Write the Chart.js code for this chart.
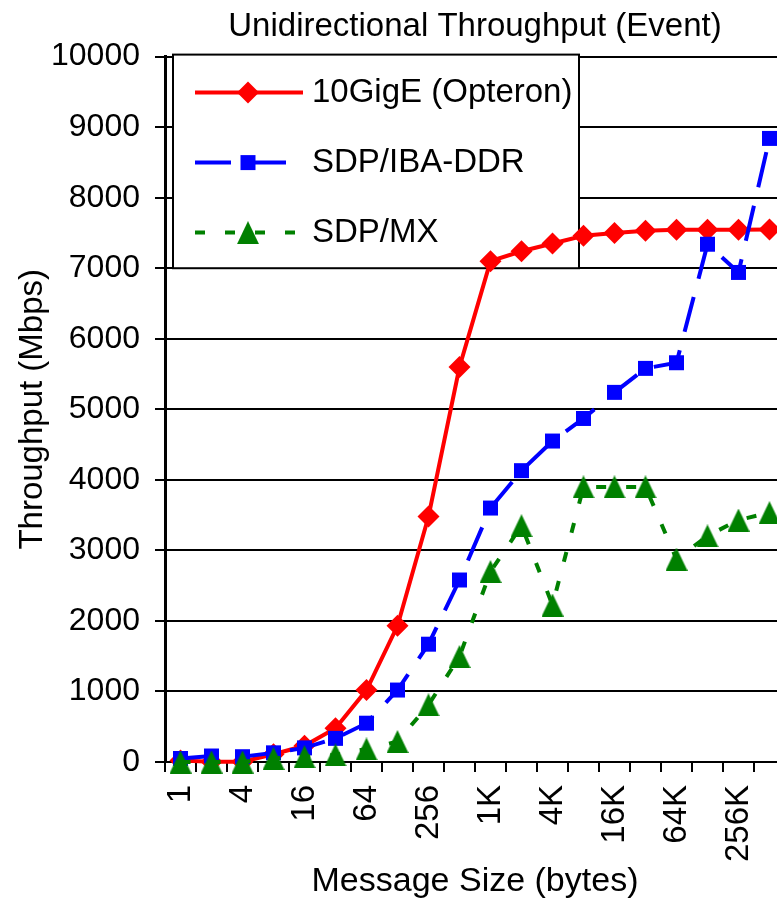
<!DOCTYPE html>
<html>
<head>
<meta charset="utf-8">
<script src="https://cdn.jsdelivr.net/npm/chart.js@4/dist/chart.umd.min.js"></script>
<style>
  html, body { margin: 0; padding: 0; background: #fff; overflow: hidden; width: 777px; height: 902px; }
  #wrap { position: absolute; left: 0; top: 0; width: 938px; height: 902px; }
</style>
</head>
<body>
<div id="wrap"><canvas id="chart" width="938" height="902"></canvas></div>
<script>
// Message sizes (bytes) on the x axis
const categories = ['1', '2', '4', '8', '16', '32', '64', '128', '256', '512',
                    '1K', '2K', '4K', '8K', '16K', '32K', '64K', '128K', '256K', '512K'];
// Sizes that carry a printed tick label
const shownTicks = ['1', '4', '16', '64', '256', '1K', '4K', '16K', '64K', '256K'];

// Throughput in Mbps for each message size
const gigE   = [20, 5, 5, 110, 230, 480, 1020, 1930, 3480, 5600,
                7100, 7240, 7350, 7460, 7500, 7530, 7545, 7545, 7545, 7550];
const ibaDDR = [50, 85, 75, 130, 200, 335, 550, 1020, 1670, 2580,
                3600, 4130, 4550, 4870, 5240, 5580, 5660, 7340, 6940, 8840];
const mx     = [0, 0, 0, 50, 75, 100, 185, 290, 810, 1495,
                2700, 3350, 2225, 3900, 3900, 3900, 2875, 3205, 3430, 3535];

const yMin = 0, yMax = 10000, yStep = 1000;

const FONT = '"Liberation Sans", Arial, Helvetica, sans-serif';

// Slightly tall triangle marker, centred on its bounding box
function makeTriangle(w, h, color) {
  const c = document.createElement('canvas');
  c.width = w;
  c.height = h;
  const g = c.getContext('2d');
  g.fillStyle = color;
  g.beginPath();
  g.moveTo(w / 2, 0);
  g.lineTo(w, h);
  g.lineTo(0, h);
  g.closePath();
  g.fill();
  return c;
}
const greenTriangle = makeTriangle(22, 23, '#008000');

// Boxed legend inside the plot, drawn under the data lines
const boxLegend = {
  id: 'boxLegend',
  beforeDatasetsDraw(chart) {
    const { ctx, chartArea, scales: { y } } = chart;
    const left = chartArea.left + 8;
    const right = chartArea.left + 414;
    const top = y.getPixelForValue(10000) - 2;
    const bottom = y.getPixelForValue(7000);
    ctx.save();
    ctx.fillStyle = '#ffffff';
    ctx.fillRect(left, top, right - left, bottom - top);
    ctx.strokeStyle = '#000000';
    ctx.lineWidth = 2;
    ctx.setLineDash([]);
    ctx.strokeRect(left, top, right - left, bottom - top);

    chart.data.datasets.forEach((ds, i) => {
      const cy = top + 38 + 70 * i;
      ctx.beginPath();
      ctx.setLineDash(ds.borderDash || []);
      ctx.lineDashOffset = 0;
      ctx.strokeStyle = ds.borderColor;
      ctx.lineWidth = ds.borderWidth;
      ctx.lineCap = 'butt';
      ctx.moveTo(left + 22, cy);
      ctx.lineTo(left + 130, cy);
      ctx.stroke();
      ctx.setLineDash([]);

      ctx.fillStyle = ds.pointBackgroundColor;
      ctx.strokeStyle = ds.pointBackgroundColor;
      if (Chart.helpers && Chart.helpers.drawPoint) {
        Chart.helpers.drawPoint(ctx, {
          pointStyle: ds.pointStyle, radius: ds.pointRadius, rotation: 0, borderWidth: 0
        }, left + 75, cy);
      }

      ctx.fillStyle = '#000000';
      ctx.font = '33px ' + FONT;
      ctx.textAlign = 'left';
      ctx.textBaseline = 'middle';
      ctx.fillText(ds.label, left + 139, cy);
    });
    ctx.restore();
  }
};

new Chart(document.getElementById('chart'), {
  type: 'line',
  data: {
    labels: categories,
    datasets: [
      {
        label: '10GigE (Opteron)',
        data: gigE,
        borderColor: '#ff0000',
        backgroundColor: '#ff0000',
        pointBackgroundColor: '#ff0000',
        borderWidth: 4,
        pointStyle: 'rectRot',
        pointRadius: 11,
        pointBorderWidth: 0,
        tension: 0,
        clip: false,
        order: 2
      },
      {
        label: 'SDP/IBA-DDR',
        data: ibaDDR,
        borderColor: '#0000ff',
        backgroundColor: '#0000ff',
        pointBackgroundColor: '#0000ff',
        borderWidth: 4,
        borderDash: [36, 19],
        pointStyle: 'rect',
        pointRadius: 10.6,
        pointBorderWidth: 0,
        tension: 0,
        clip: false,
        order: 1
      },
      {
        label: 'SDP/MX',
        data: mx,
        borderColor: '#008000',
        backgroundColor: '#008000',
        pointBackgroundColor: '#008000',
        borderWidth: 4,
        borderDash: [10, 20],
        pointStyle: greenTriangle,
        pointRadius: 12,
        pointBorderWidth: 0,
        tension: 0,
        clip: false,
        order: 0
      }
    ]
  },
  options: {
    responsive: false,
    devicePixelRatio: 1,
    animation: false,
    events: [],
    layout: { padding: { left: 0, right: 153, top: 0, bottom: 0 } },
    plugins: {
      legend: { display: false },
      tooltip: { enabled: false },
      title: {
        display: true,
        text: 'Unidirectional Throughput (Event)',
        fullSize: false,
        color: '#000000',
        font: { family: FONT, size: 33, weight: 'normal' },
        padding: { top: 7, bottom: 10 }
      }
    },
    scales: {
      x: {
        type: 'category',
        offset: true,
        grid: {
          display: true,
          drawOnChartArea: false,
          drawTicks: true,
          tickLength: 10,
          offset: true,
          color: '#000000',
          lineWidth: 2
        },
        border: { display: true, color: '#000000', width: 2 },
        ticks: {
          autoSkip: false,
          minRotation: 90,
          maxRotation: 90,
          padding: 13,
          color: '#000000',
          font: { family: FONT, size: 33 },
          callback(value, index) {
            const lbl = categories[index];
            return shownTicks.includes(lbl) ? lbl : '';
          }
        },
        title: {
          display: true,
          text: 'Message Size (bytes)',
          color: '#000000',
          font: { family: FONT, size: 34 },
          padding: { top: 0, bottom: 0 }
        },
        afterFit(scale) { scale.height = 140; }
      },
      y: {
        min: yMin,
        max: yMax,
        ticks: {
          stepSize: yStep,
          padding: 15,
          color: '#000000',
          font: { family: FONT, size: 32 },
          callback(value) { return String(value); }
        },
        grid: { color: '#000000', lineWidth: 2, tickLength: 10, drawTicks: true },
        border: { display: true, color: '#000000', width: 3 },
        title: {
          display: true,
          text: 'Throughput (Mbps)',
          color: '#000000',
          font: { family: FONT, size: 33 },
          padding: { top: 13, bottom: 0 }
        },
        afterFit(scale) { scale.width = 165; }
      }
    }
  },
  plugins: [boxLegend]
});
</script>
</body>
</html>
